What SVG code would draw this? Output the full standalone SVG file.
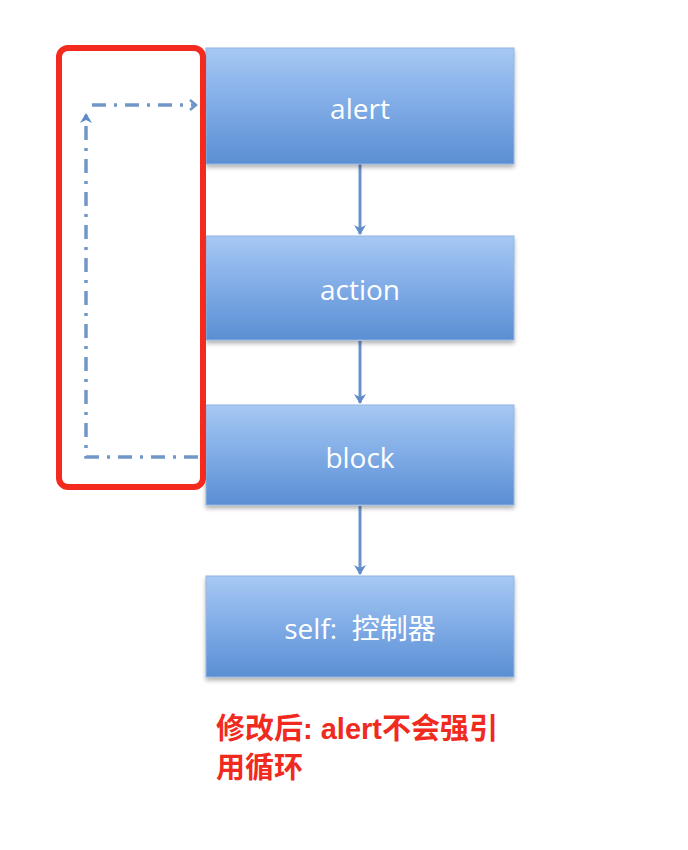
<svg xmlns="http://www.w3.org/2000/svg" width="688" height="850" viewBox="0 0 688 850">
<defs>
<linearGradient id="g" x1="0" y1="0" x2="0" y2="1">
<stop offset="0" stop-color="#a7c9f4"/>
<stop offset="0.5" stop-color="#7fabe6"/>
<stop offset="1" stop-color="#5a8fd3"/>
</linearGradient>
<filter id="sh" x="-5%" y="-5%" width="110%" height="120%">
<feDropShadow dx="0" dy="3" stdDeviation="2" flood-color="#000" flood-opacity="0.3"/>
</filter>
<marker id="ah" markerWidth="14" markerHeight="14" refX="10" refY="7" orient="auto" markerUnits="userSpaceOnUse">
<path d="M1,1 L11,7 L1,13 L4,7 Z" fill="#5f8cc6"/>
</marker>
<marker id="oa" markerWidth="12" markerHeight="12" refX="8" refY="6" orient="auto" markerUnits="userSpaceOnUse">
<path d="M2,1 L8,6 L2,11" fill="none" stroke="#6f95c8" stroke-width="2.5"/>
</marker>
</defs>
<style>
.box{fill:url(#g);stroke:#93b4e0;stroke-width:1;filter:url(#sh)}
.lbl{font-family:"Open Sans","Noto Sans CJK SC",sans-serif;font-size:28px;fill:#fff;text-anchor:middle}
.arr{stroke:#6a93c9;stroke-width:3;fill:none}
.dash{stroke:#7196c8;stroke-width:3.5;fill:none;stroke-dasharray:14,8,3,8}
.note{font-family:"Liberation Sans","Noto Sans CJK SC",sans-serif;font-size:29px;font-weight:bold;fill:#f02a1e;stroke:#fff;stroke-width:4;paint-order:stroke;stroke-linejoin:round}
</style>
<g id="connectors">
<line class="arr" x1="360" y1="164" x2="360" y2="234" marker-end="url(#ah)"/>
<line class="arr" x1="360" y1="341" x2="360" y2="403" marker-end="url(#ah)"/>
<line class="arr" x1="360" y1="506" x2="360" y2="574" marker-end="url(#ah)"/>
<polyline class="dash" points="198,457 86,457 86,114" marker-end="url(#ah)"/>
<polyline class="dash" points="92,105 196,105" marker-end="url(#oa)"/>
</g>
<g id="alert"><rect class="box" x="206" y="48" width="308" height="116"/><text class="lbl" x="360" y="119">alert</text></g>
<g id="action"><rect class="box" x="206" y="236" width="308" height="104"/><text class="lbl" x="360" y="300">action</text></g>
<g id="block"><rect class="box" x="206" y="405" width="308" height="100"/><text class="lbl" x="360" y="468">block</text></g>
<g id="self"><rect class="box" x="206" y="576" width="308" height="101"/><text class="lbl" x="360" y="639" xml:space="preserve">self:  控制器</text></g>
<g id="highlight"><rect x="59" y="48" width="144" height="439" rx="9" fill="none" stroke="#f32a1d" stroke-width="6"/></g>
<g id="note">
<text class="note" x="216" y="739">修改后: alert不会强引</text>
<text class="note" x="216" y="778">用循环</text>
</g>
</svg>
